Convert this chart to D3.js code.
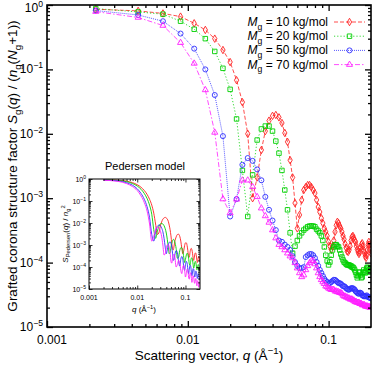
<!DOCTYPE html>
<html>
<head>
<meta charset="utf-8">
<script src="https://cdn.jsdelivr.net/npm/d3@7"></script>
<style>
body { margin: 0; background: #fff; }
text { font-family: "Liberation Sans", Arial, Helvetica, sans-serif; }
</style>
</head>
<body>
<svg id="chart" width="374" height="365"></svg>
<script>
// simulation grid: q = n * dq
var dq = 0.00222;

// Mg = 10 kg/mol
var s10 = [0.86,0.81,0.74,0.66,0.52,0.41,0.30,0.20,0.13,0.068,
    0.031,0.010,1.0e-3,2.1e-3,5.6e-3,0.011,0.016,0.019,0.0196,0.018,
    0.0147,0.0103,7.5e-3,3.9e-3,2.1e-3,8.4e-4,3.4e-4,5.5e-4,9.4e-4,1.34e-3,
    1.49e-3,1.6e-3,1.6e-3,1.49e-3,1.34e-3,1.2e-3,9.4e-4,7.3e-4,6.1e-4,4.9e-4,
    4.1e-4,3.4e-4,3.0e-4,2.6e-4,2.1e-4,1.8e-4,1.6e-4,1.8e-4,2.2e-4,3.0e-4,
    3.8e-4,4.3e-4,4.1e-4,3.7e-4,3.4e-4,3.0e-4,2.6e-4,2.3e-4,1.95e-4,1.7e-4,
    1.5e-4,1.46e-4,1.57e-4,1.8e-4,2.2e-4,2.5e-4,2.6e-4,2.4e-4,2.2e-4,2.1e-4,
    1.8e-4,1.6e-4,1.46e-4,1.36e-4,1.46e-4,1.7e-4,1.9e-4,2.0e-4,1.8e-4,1.57e-4,
    1.4e-4,1.26e-4,1.18e-4,1.3e-4,1.57e-4,1.9e-4,2.1e-4,1.9e-4,1.57e-4,1.4e-4];
// Mg = 20 kg/mol
var s20 = [0.88,0.78,0.72,0.56,0.42,0.30,0.19,0.104,0.049,0.017,
    2.7e-3,5.2e-4,2.3e-3,8.0e-3,0.0119,0.0132,0.0132,0.011,7.7e-3,5.0e-3,
    2.7e-3,1.34e-3,6.6e-4,2.9e-4,1.4e-4,1.8e-4,2.2e-4,2.6e-4,2.9e-4,3.2e-4,
    3.4e-4,3.6e-4,3.7e-4,3.7e-4,3.7e-4,3.6e-4,3.3e-4,3.1e-4,2.9e-4,2.6e-4,
    2.2e-4,1.75e-4,1.3e-4,1.06e-4,9.2e-5,1.02e-4,1.3e-4,1.57e-4,1.75e-4,1.9e-4,
    1.9e-4,1.8e-4,1.75e-4,1.57e-4,1.36e-4,1.22e-4,1.1e-4,1.02e-4,9.9e-5,9.5e-5,
    9.2e-5,9.2e-5,9.2e-5,8.9e-5,8.9e-5,8.5e-5,8.5e-5,8.2e-5,7.7e-5,7.1e-5,
    6.4e-5,5.8e-5,6.2e-5,7.1e-5,7.1e-5,6.4e-5,5.8e-5,6.0e-5,7.1e-5,7.7e-5,
    7.1e-5,6.9e-5,7.4e-5,8.2e-5,8.5e-5,8.2e-5,7.7e-5,7.1e-5,7.7e-5,8.2e-5];
// Mg = 50 kg/mol
var s50 = [0.82,0.70,0.56,0.36,0.21,0.10,0.040,9.2e-3,5.2e-4,9.7e-4,
    3.3e-3,4.2e-3,3.8e-3,2.8e-3,1.9e-3,1.05e-3,6.6e-4,4.5e-4,3.2e-4,2.2e-4,
    2.1e-4,1.9e-4,1.75e-4,1.57e-4,1.26e-4,1.02e-4,8.9e-5,8.2e-5,8.2e-5,8.5e-5,
    1.22e-4,1.3e-4,1.36e-4,1.36e-4,1.3e-4,1.18e-4,1.02e-4,8.9e-5,7.7e-5,6.9e-5,
    6.2e-5,5.6e-5,5.2e-5,5.0e-5,4.8e-5,4.8e-5,5.0e-5,5.2e-5,5.4e-5,5.4e-5,
    5.2e-5,5.0e-5,4.8e-5,4.8e-5,4.7e-5,4.5e-5,4.3e-5,4.3e-5,4.2e-5,4.0e-5,
    3.9e-5,3.8e-5,3.8e-5,3.9e-5,4.0e-5,4.0e-5,4.0e-5,3.9e-5,3.8e-5,3.6e-5,
    3.5e-5,3.4e-5,3.3e-5,3.3e-5,3.4e-5,3.4e-5,3.3e-5,3.1e-5,3.1e-5,3.0e-5,
    3.0e-5,3.0e-5,3.0e-5,3.1e-5,3.0e-5,2.9e-5,2.9e-5,2.9e-5,2.8e-5,2.8e-5];
// Mg = 70 kg/mol
var s70 = [0.79,0.64,0.48,0.26,0.124,0.048,0.0105,9.7e-4,5.9e-4,9.6e-4,
    1.9e-3,1.9e-3,1.5e-3,1.05e-3,7.0e-4,5.3e-4,4.2e-4,3.2e-4,2.4e-4,1.9e-4,
    1.75e-4,1.57e-4,1.4e-4,1.26e-4,1.18e-4,9.9e-5,8.2e-5,6.9e-5,6.0e-5,6.4e-5,
    7.7e-5,8.9e-5,9.9e-5,1.06e-4,1.06e-4,9.5e-5,8.2e-5,6.9e-5,6.0e-5,5.4e-5,
    5.0e-5,4.7e-5,4.3e-5,4.2e-5,4.0e-5,3.9e-5,3.8e-5,3.8e-5,3.8e-5,3.6e-5,
    3.6e-5,3.5e-5,3.5e-5,3.4e-5,3.4e-5,3.3e-5,3.1e-5,3.0e-5,3.0e-5,2.9e-5,
    2.9e-5,2.8e-5,2.8e-5,2.7e-5,2.7e-5,2.7e-5,2.6e-5,2.6e-5,2.5e-5,2.45e-5,
    2.45e-5,2.4e-5,2.4e-5,2.4e-5,2.3e-5,2.3e-5,2.3e-5,2.2e-5,2.2e-5,2.2e-5,
    2.2e-5,2.1e-5,2.1e-5,2.1e-5,2.1e-5,2.05e-5,2.05e-5,2.05e-5,2.0e-5,2.0e-5];

// inset (Pedersen model), q grid: 0.002..0.060 step 0.002, then 0.064..0.200 step 0.004
var insetQ = d3.range(1, 31).map(function(i) { return i * 0.002; })
    .concat(d3.range(16, 51).map(function(i) { return i * 0.004; }));
var p10 = [0.93,0.88,0.80,0.68,0.55,0.42,0.30,0.20,0.12,0.065,
    0.028,0.009,3e-3,3.5e-3,7e-3,0.011,0.015,0.017,0.018,0.017,
    0.015,0.012,8e-3,5e-3,2.6e-3,1.2e-3,6.5e-4,6e-4,9e-4,1.4e-3,
    2.3e-3,3e-3,3.1e-3,2.5e-3,1.5e-3,7e-4,4e-4,5.5e-4,9.5e-4,1.25e-3,
    1.25e-3,9.5e-4,5.5e-4,3e-4,2.8e-4,4.5e-4,6.5e-4,7e-4,6e-4,4.2e-4,
    2.5e-4,2e-4,2.6e-4,3.8e-4,4.4e-4,4.2e-4,3.2e-4,2.1e-4,1.6e-4,1.9e-4,
    2.6e-4,3e-4,2.9e-4,2.3e-4,1.7e-4];
var p20 = [0.92,0.86,0.76,0.62,0.48,0.34,0.22,0.13,0.065,0.025,
    5e-3,2e-3,4e-3,7e-3,9e-3,9.5e-3,9e-3,7.5e-3,5.5e-3,3.5e-3,
    1.8e-3,8e-4,4e-4,4.5e-4,8e-4,1.2e-3,1.6e-3,1.8e-3,1.7e-3,1.4e-3,
    7e-4,2.5e-4,2.8e-4,5.5e-4,7.5e-4,7.5e-4,5.5e-4,2.8e-4,1.6e-4,2.2e-4,
    3.5e-4,4.2e-4,3.8e-4,2.5e-4,1.4e-4,1.2e-4,1.8e-4,2.5e-4,2.6e-4,2.1e-4,
    1.3e-4,9e-5,1.1e-4,1.6e-4,1.8e-4,1.6e-4,1.1e-4,7.5e-5,8e-5,1.1e-4,
    1.3e-4,1.2e-4,9e-5,6.5e-5,7e-5];
var p50 = [0.90,0.82,0.68,0.52,0.36,0.22,0.12,0.055,0.018,3e-3,
    1.5e-3,4e-3,7e-3,8e-3,7.5e-3,6e-3,4e-3,2e-3,8e-4,4e-4,
    6e-4,1e-3,1.3e-3,1.4e-3,1.2e-3,8e-4,4e-4,2e-4,2.2e-4,3.5e-4,
    5.5e-4,4.5e-4,1.8e-4,1.1e-4,2.3e-4,3e-4,2.3e-4,1e-4,7e-5,1.3e-4,
    1.8e-4,1.5e-4,8e-5,5e-5,8e-5,1.2e-4,1.1e-4,6.5e-5,4e-5,6e-5,
    8.5e-5,8e-5,5e-5,3.5e-5,4.5e-5,6.5e-5,6e-5,4e-5,3e-5,4e-5,
    5e-5,4.5e-5,3e-5,2.6e-5,3.5e-5];
var p70 = [0.88,0.78,0.62,0.45,0.30,0.17,0.085,0.035,9e-3,1.5e-3,
    2.5e-3,5e-3,6.5e-3,6e-3,4.5e-3,2.5e-3,1e-3,3.5e-4,4e-4,7.5e-4,
    1e-3,1.05e-3,8e-4,4.5e-4,1.8e-4,1.5e-4,2.5e-4,3.5e-4,3.8e-4,3e-4,
    1e-4,1.3e-4,2e-4,1.6e-4,7e-5,5e-5,1e-4,1.2e-4,7e-5,3.5e-5,
    5e-5,8e-5,7e-5,3.5e-5,2.8e-5,5e-5,5.5e-5,3.5e-5,2e-5,3e-5,
    4e-5,3.5e-5,2e-5,1.8e-5,2.8e-5,3e-5,2e-5,1.4e-5,2e-5,2.4e-5,
    1.8e-5,1.2e-5,1.5e-5,2e-5,1.8e-5];

var labels = ["10 kg/mol", "20 kg/mol", "50 kg/mol", "70 kg/mol"];
var colors = ["#ff2020", "#00d000", "#3030ff", "#ff20ff"];
var dashes = ["4,2", "1.2,2", "1,1", "5,2,1.5,2"];
var symbols = [d3.symbolDiamond, d3.symbolSquare, d3.symbolCircle, d3.symbolTriangle];
var symSize = [16, 20, 20, 16];
var mainData = [s10, s20, s50, s70];
var insetData = [p10, p20, p50, p70];

var svg = d3.select("#chart");

var x = d3.scaleLog().domain([0.001, 0.2]).range([47, 371]);
var y = d3.scaleLog().domain([1e-5, 1]).range([327, 5]);

function minorTicks(lo, hi) {
    var t = [];
    for (var e = Math.floor(Math.log10(lo)); e <= Math.ceil(Math.log10(hi)); e++) {
        for (var k = 2; k <= 9; k++) {
            var v = k * Math.pow(10, e);
            if (v > lo && v < hi) t.push(v);
        }
    }
    return t;
}
function majorTicks(lo, hi) {
    var t = [];
    for (var e = Math.ceil(Math.log10(lo) - 1e-9); Math.pow(10, e) <= hi * 1.0001; e++) t.push(Math.pow(10, e));
    return t;
}

// rich text with sub/superscripts
function rich(sel, parts, fs) {
    var cur = 0;
    parts.forEach(function(p) {
        var target = p.sub ? fs * 0.3 : (p.sup ? -fs * 0.42 : 0);
        sel.append("tspan")
            .attr("dy", target - cur)
            .style("font-size", (p.sub || p.sup) ? (fs * 0.72) + "px" : fs + "px")
            .style("font-style", p.it ? "italic" : "normal")
            .text(p.t);
        cur = target;
    });
}

function drawFrame(g, xs, ys, majLen, minLen, sw) {
    var xr = xs.range(), yr = ys.range();
    var xd = xs.domain(), yd = ys.domain();
    var xMaj = majorTicks(xd[0], xd[1]), xMin = minorTicks(xd[0], xd[1]);
    var yMaj = majorTicks(yd[0], yd[1]), yMin = minorTicks(yd[0], yd[1]);
    var axes = [
        [d3.axisBottom(xs), "translate(0," + yr[0] + ")", xMaj, xMin],
        [d3.axisTop(xs), "translate(0," + yr[1] + ")", xMaj, xMin],
        [d3.axisLeft(ys), "translate(" + xr[0] + ",0)", yMaj, yMin],
        [d3.axisRight(ys), "translate(" + xr[1] + ",0)", yMaj, yMin]
    ];
    axes.forEach(function(a) {
        [[a[2], majLen], [a[3], minLen]].forEach(function(tt) {
            var ax = a[0].tickValues(tt[0]).tickSize(-tt[1]).tickFormat("");
            var gg = g.append("g").attr("transform", a[1]).call(ax);
            gg.select(".domain").remove();
            gg.selectAll("line").attr("stroke", "#000").attr("stroke-width", sw * 0.8);
        });
    });
    g.append("rect")
        .attr("x", xr[0]).attr("y", yr[1])
        .attr("width", xr[1] - xr[0]).attr("height", yr[0] - yr[1])
        .attr("fill", "none").attr("stroke", "#000").attr("stroke-width", sw);
}

// ---- main plot ----
svg.append("clipPath").attr("id", "clipMain").append("rect")
    .attr("x", 47).attr("y", 5).attr("width", 324).attr("height", 322);

var plot = svg.append("g").attr("clip-path", "url(#clipMain)");
var line = d3.line()
    .x(function(d) { return x(d.q); })
    .y(function(d) { return y(d.v); });

mainData.forEach(function(vals, i) {
    var pts = vals.map(function(v, k) { return {q: (k + 1) * dq, v: v}; });
    plot.append("path").datum(pts)
        .attr("d", line)
        .attr("fill", "none")
        .attr("stroke", colors[i])
        .attr("stroke-width", 0.8)
        .attr("stroke-dasharray", dashes[i]);
    plot.selectAll(".m" + i).data(pts).enter().append("path")
        .attr("class", "m" + i)
        .attr("transform", function(d) { return "translate(" + x(d.q) + "," + y(d.v) + ")"; })
        .attr("d", d3.symbol().type(symbols[i]).size(symSize[i]))
        .attr("fill", "none")
        .attr("stroke", colors[i])
        .attr("stroke-width", 0.9);
});

drawFrame(svg.append("g"), x, y, 6, 3, 1.6);

// tick labels
[0.001, 0.01, 0.1].forEach(function(v) {
    svg.append("text").attr("x", v === 0.001 ? x(v) + 5 : x(v)).attr("y", 344)
        .attr("text-anchor", "middle").style("font-size", "12px")
        .text(v === 0.001 ? "0.001" : (v === 0.01 ? "0.01" : "0.1"));
});
[0, -1, -2, -3, -4, -5].forEach(function(e) {
    var t = svg.append("text").attr("x", 43).attr("y", Math.max(y(Math.pow(10, e)) + 4, 12))
        .attr("text-anchor", "end");
    rich(t, [{t: "10"}, {t: e === 0 ? "0" : "\u2212" + (-e), sup: true}], 12);
});

// axis titles
var xt = svg.append("text").attr("x", 209).attr("y", 360).attr("text-anchor", "middle");
rich(xt, [{t: "Scattering vector, "}, {t: "q", it: true}, {t: " (\u00c5"}, {t: "\u22121", sup: true}, {t: ")"}], 13.5);

var yt = svg.append("text").attr("transform", "translate(17,166) rotate(-90)").attr("text-anchor", "middle");
rich(yt, [{t: "Grafted corona structure factor "}, {t: "S", it: true}, {t: "g", sub: true},
    {t: "("}, {t: "q", it: true}, {t: ") / ("}, {t: "n", it: true}, {t: "g", sub: true},
    {t: "("}, {t: "N", it: true}, {t: "g", sub: true}, {t: "+1))"}], 13.5);

// legend
labels.forEach(function(l, i) {
    var ly = 22 + i * 14.2;
    var t = svg.append("text").attr("x", 328).attr("y", ly + 4).attr("text-anchor", "end");
    rich(t, [{t: "M", it: true}, {t: "g", sub: true}, {t: " = " + l}], 12);
    svg.append("line").attr("x1", 334).attr("x2", 365).attr("y1", ly).attr("y2", ly)
        .attr("stroke", colors[i]).attr("stroke-width", 0.8).attr("stroke-dasharray", dashes[i]);
    svg.append("path").attr("transform", "translate(349.5," + ly + ")")
        .attr("d", d3.symbol().type(symbols[i]).size(symSize[i]))
        .attr("fill", "none").attr("stroke", colors[i]).attr("stroke-width", 0.9);
});

// ---- inset ----
var ix = d3.scaleLog().domain([0.001, 0.2]).range([89, 200]);
var iy = d3.scaleLog().domain([1e-5, 1]).range([289, 179]);

svg.append("rect").attr("x", 89).attr("y", 179).attr("width", 111).attr("height", 110).attr("fill", "#fff");
svg.append("clipPath").attr("id", "clipInset").append("rect")
    .attr("x", 89).attr("y", 179).attr("width", 111).attr("height", 110);
var ip = svg.append("g").attr("clip-path", "url(#clipInset)");
var iline = d3.line()
    .x(function(d) { return ix(d.q); })
    .y(function(d) { return iy(d.v); })
    .curve(d3.curveMonotoneX);
insetData.forEach(function(vals, i) {
    var pts = vals.map(function(v, k) { return {q: insetQ[k], v: v}; });
    ip.append("path").datum(pts).attr("d", iline)
        .attr("fill", "none").attr("stroke", colors[i]).attr("stroke-width", 0.9);
});
drawFrame(svg.append("g"), ix, iy, 3.5, 2, 1);

[0.001, 0.01, 0.1].forEach(function(v) {
    svg.append("text").attr("x", ix(v)).attr("y", 300)
        .attr("text-anchor", "middle").style("font-size", "7px")
        .text(v === 0.001 ? "0.001" : (v === 0.01 ? "0.01" : "0.1"));
});
[0, -1, -2, -3, -4, -5].forEach(function(e) {
    var t = svg.append("text").attr("x", 86).attr("y", iy(Math.pow(10, e)) + 2.5)
        .attr("text-anchor", "end");
    rich(t, [{t: "10"}, {t: e === 0 ? "0" : "\u2212" + (-e), sup: true}], 7);
});
var ixt = svg.append("text").attr("x", 144).attr("y", 312).attr("text-anchor", "middle");
rich(ixt, [{t: "q", it: true}, {t: " (\u00c5"}, {t: "\u22121", sup: true}, {t: ")"}], 8);
var iyt = svg.append("text").attr("transform", "translate(68,234) rotate(-90)").attr("text-anchor", "middle");
rich(iyt, [{t: "S", it: true}, {t: "Pedersen", sub: true}, {t: "("}, {t: "q", it: true}, {t: ") / "},
    {t: "n", it: true}, {t: "g", sub: true}, {t: "2", sup: true}], 8);
svg.append("text").attr("x", 145).attr("y", 170).attr("text-anchor", "middle")
    .style("font-size", "11px").text("Pedersen model");
</script>
</body>
</html>
